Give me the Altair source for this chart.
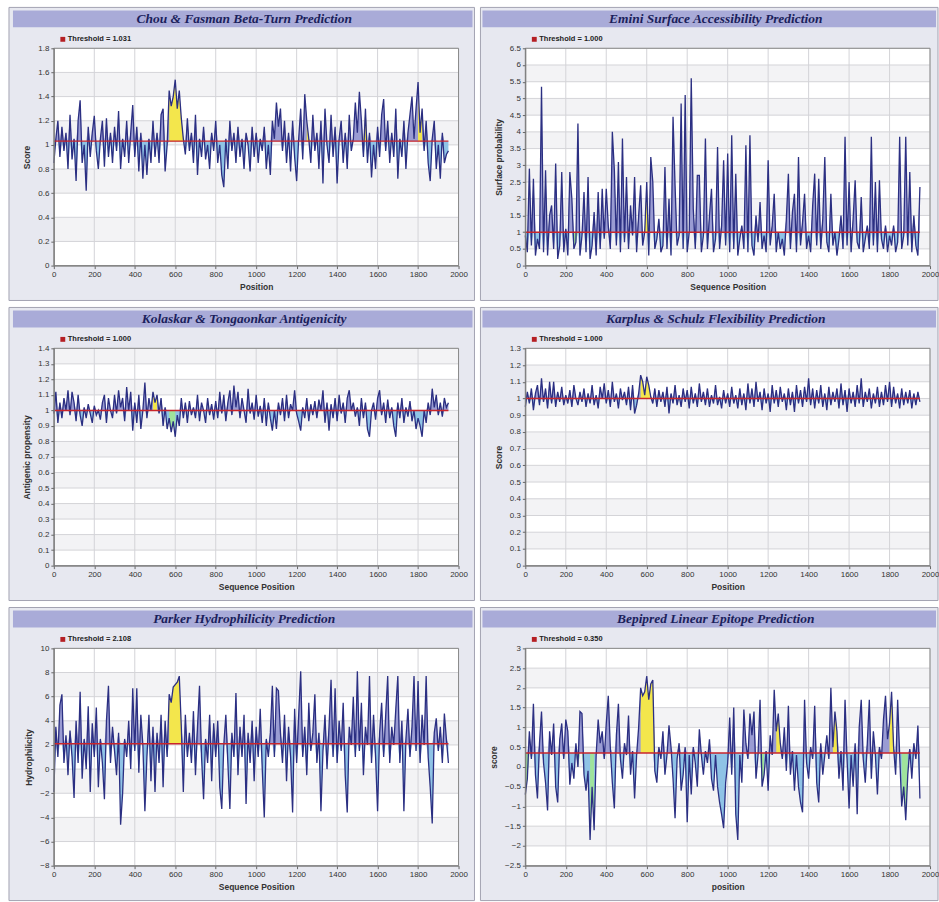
import altair as alt
import pandas as pd

positions = list(range(0, 1960, 10))

chou_fasman = [
    0.85,1.05,1.2,0.9,1.15,0.95,1.1,0.8,1.25,0.88,
    1.05,0.7,1.2,1.37,0.85,1.0,0.62,1.15,0.9,1.1,
    1.24,0.95,0.8,1.05,1.2,0.82,1.22,0.9,1.1,0.85,
    1.15,0.95,1.28,0.8,1.05,0.9,1.2,0.85,1.1,1.33,
    0.9,1.15,0.78,1.1,0.72,1.0,0.75,1.05,0.85,1.2,
    0.9,1.1,0.85,1.25,1.3,0.78,1.0,1.45,1.32,1.4,
    1.54,1.3,1.45,1.22,1.05,0.92,1.22,0.95,1.1,0.85,
    1.25,0.75,1.05,0.9,1.15,0.88,1.0,0.8,1.1,0.95,
    1.2,0.85,1.0,0.75,0.65,1.05,0.8,1.2,0.95,1.1,
    0.85,1.15,0.9,1.05,0.8,1.1,1.0,0.78,1.15,0.9,
    1.1,0.85,1.05,0.95,1.15,0.8,1.0,0.75,1.2,1.05,
    1.35,1.15,1.3,0.95,1.2,0.85,1.1,0.78,1.2,0.9,
    0.7,1.05,1.3,0.88,1.42,1.2,1.05,0.85,1.25,0.95,
    1.1,0.8,1.2,0.68,1.3,1.0,0.85,1.25,0.9,1.15,
    0.68,1.05,1.2,0.85,1.1,0.8,1.25,0.95,1.05,1.35,
    1.1,1.44,1.2,0.9,1.3,0.85,1.1,0.73,1.0,0.8,
    1.15,0.9,1.25,1.38,0.95,1.2,0.85,1.1,0.9,1.3,
    0.72,1.05,0.9,1.2,0.8,1.1,1.25,1.4,1.05,1.3,
    1.52,1.1,1.3,0.95,1.2,0.85,0.7,1.05,1.2,0.8,
    1.0,0.72,1.1,0.85,0.92,0.95,
]

emini = [
    0.9,0.4,2.9,0.6,2.6,0.3,0.8,0.5,5.35,0.4,
    2.85,0.3,1.5,1.8,0.5,3.05,0.2,0.6,2.8,0.4,
    1.1,0.3,2.8,2.0,0.5,0.7,4.25,0.3,0.9,2.2,
    0.4,2.65,0.2,0.6,1.6,0.3,2.2,0.5,2.3,0.8,
    2.3,1.2,0.5,4.0,2.85,0.6,3.1,0.4,3.8,0.7,
    2.65,0.5,1.8,0.9,2.65,0.4,1.5,2.4,0.6,1.0,
    2.5,0.3,3.25,2.5,0.5,0.8,1.4,0.4,0.6,2.95,
    0.5,2.0,0.3,4.45,2.4,0.6,0.9,4.85,0.5,5.1,
    0.4,1.0,5.6,1.7,0.5,2.7,2.7,0.4,0.9,3.8,
    0.5,1.5,2.3,0.4,0.8,3.55,0.5,1.2,3.15,0.6,
    3.35,0.4,3.9,0.5,2.75,0.3,0.8,1.2,0.5,3.6,
    0.4,3.9,0.6,0.3,1.5,0.7,1.9,0.5,0.9,0.4,
    3.15,0.6,1.2,2.15,0.4,1.0,0.5,0.8,0.3,1.4,
    2.75,0.5,1.6,2.15,0.4,3.25,0.6,1.3,2.15,0.5,
    0.9,0.4,1.8,2.75,0.6,2.6,0.5,1.4,3.25,0.7,
    0.4,2.15,0.6,1.0,0.3,0.8,1.5,0.5,3.85,0.6,
    2.5,0.4,1.4,2.55,0.7,0.5,2.05,0.4,0.8,1.2,
    0.5,3.85,0.6,2.5,0.4,2.55,0.8,0.5,1.2,0.4,
    0.9,0.6,1.2,0.4,0.7,3.85,0.5,0.9,3.85,0.6,
    2.8,0.4,1.5,0.6,0.3,2.35,
]

kolaskar = [
    0.98,1.12,0.92,1.05,0.95,1.08,1.0,1.13,0.97,1.12,
    1.05,0.93,1.1,0.97,0.9,1.02,0.95,1.04,0.98,0.92,
    1.03,0.97,1.0,0.94,1.05,1.1,0.92,1.08,1.0,0.95,
    1.1,0.98,1.13,1.02,1.08,0.93,1.15,1.0,1.12,0.87,
    1.05,0.92,1.1,0.88,1.0,1.18,0.95,1.08,1.0,1.12,
    1.05,1.1,0.98,1.08,0.9,1.02,0.88,0.95,0.86,0.93,
    0.83,0.97,0.9,1.08,0.95,1.05,0.92,1.06,0.97,1.02,
    0.95,1.1,0.93,1.05,1.0,0.92,1.08,0.97,1.04,0.94,
    1.06,0.95,1.12,0.98,1.1,0.93,1.05,1.13,0.97,1.16,
    1.02,1.12,0.95,1.08,1.0,0.92,1.14,0.98,1.05,0.94,
    1.1,0.96,1.03,0.92,1.08,0.9,1.05,0.95,0.87,1.0,
    0.88,1.05,0.97,1.08,0.93,1.1,0.95,1.04,1.0,1.13,
    0.98,0.93,0.87,1.02,0.95,1.08,0.93,1.04,0.97,1.06,
    0.95,1.07,1.0,1.13,0.92,1.05,0.87,1.04,0.95,1.08,
    0.93,1.1,0.98,1.05,0.92,1.08,1.13,1.0,1.05,0.96,
    1.02,0.9,1.08,0.95,1.05,0.88,0.83,1.0,1.05,0.94,
    1.08,1.13,0.97,1.05,0.92,1.07,0.95,1.02,0.9,0.83,
    1.05,0.95,1.08,0.92,1.02,0.96,1.06,0.93,1.0,0.88,
    0.95,0.9,0.83,1.0,0.92,1.05,0.97,1.14,1.02,1.1,
    0.97,1.05,0.96,1.08,1.02,1.05,
]

karplus = [
    0.95,1.04,0.97,1.06,0.93,1.03,1.08,0.96,1.12,0.98,
    1.06,0.94,1.1,0.97,1.1,0.95,1.04,0.98,1.07,0.96,
    1.02,0.97,1.05,0.95,1.08,1.0,0.96,1.04,0.98,1.06,
    0.95,1.03,0.97,1.08,0.96,1.02,0.94,1.07,1.0,1.09,
    0.97,1.05,0.95,1.1,0.98,1.03,0.94,1.06,0.99,1.04,
    0.96,1.07,0.93,1.08,0.91,0.96,1.03,1.14,1.1,1.02,
    1.13,1.08,1.01,0.97,1.06,0.95,1.05,0.98,1.04,0.95,
    1.07,0.91,1.03,0.97,1.08,0.96,1.02,0.95,1.06,0.98,
    1.05,0.94,1.07,0.97,1.03,0.95,1.09,0.98,1.04,0.96,
    1.06,0.95,1.02,0.97,1.08,0.96,1.01,0.94,1.05,0.97,
    1.03,0.95,1.07,0.97,1.02,0.94,1.06,0.96,1.03,0.93,
    1.09,0.97,1.06,0.95,1.1,0.98,1.04,0.93,1.06,0.97,
    1.03,0.92,1.08,0.97,1.05,0.95,1.07,0.98,1.03,0.93,
    1.06,0.96,1.04,0.92,1.08,0.97,1.05,0.95,1.07,0.98,
    1.12,0.96,1.06,0.94,1.05,0.97,1.08,0.95,1.03,0.93,
    1.07,0.96,1.04,0.98,1.06,0.94,1.09,0.96,1.05,0.92,
    1.06,0.97,1.04,0.95,1.08,0.97,1.12,0.95,1.04,0.98,
    1.06,0.94,1.03,0.97,1.07,0.95,1.04,0.96,1.08,0.98,
    1.1,0.95,1.07,0.97,1.03,0.94,1.06,0.96,1.04,0.97,
    1.05,0.94,1.03,0.96,1.04,0.98,
]

parker = [
    -1.9,3.5,1.0,5.3,6.2,0.5,2.8,-0.5,3.2,1.0,
    -2.4,4.0,0.5,6.4,-0.8,2.5,0.0,5.2,-1.9,3.8,
    1.0,5.1,-1.5,2.5,0.5,-2.5,4.0,6.9,0.5,3.5,
    1.5,-0.5,3.0,-4.6,-2.0,2.5,1.0,4.0,0.0,6.7,
    1.5,6.7,-0.3,4.5,2.0,-3.5,1.0,4.5,-1.0,3.5,
    -1.9,3.0,0.5,4.5,-1.5,4.0,1.0,6.2,5.5,6.8,
    7.0,7.2,7.7,3.5,-1.9,4.5,1.0,3.0,0.5,4.8,
    -0.5,3.5,6.9,1.0,-2.5,2.5,0.5,4.5,-1.0,3.8,
    1.0,4.0,-1.5,-3.3,2.0,4.5,0.5,-3.3,3.0,1.0,
    6.3,-0.5,3.5,1.0,4.5,-2.9,3.0,0.5,4.0,-1.0,
    3.5,1.0,5.0,0.0,-4.0,2.5,1.0,3.0,6.9,1.0,
    6.7,6.5,3.0,0.5,4.5,-1.0,3.5,1.0,-3.6,5.0,
    0.5,4.5,8.1,1.0,3.5,-0.5,5.5,1.5,3.0,6.2,
    0.5,3.0,-3.5,1.5,4.5,0.0,3.5,7.4,1.0,6.7,
    0.5,4.0,1.5,5.5,-0.5,-3.6,3.5,2.0,6.0,1.0,
    8.1,1.5,5.5,-0.5,3.5,2.0,7.7,0.5,4.5,1.0,
    -3.5,3.0,5.5,1.0,4.5,7.7,0.5,3.5,2.0,5.0,
    7.7,0.5,4.0,-3.5,2.5,5.0,1.0,3.5,7.7,1.5,
    7.3,0.5,4.5,2.0,7.7,1.0,-1.5,-4.5,3.0,4.2,
    1.5,3.5,0.5,4.6,2.5,0.5,
]

bepipred = [
    -0.7,-0.3,0.9,0.2,1.6,-0.2,-0.8,0.6,1.4,0.1,
    -0.4,-1.1,0.9,0.3,1.1,-0.5,-0.9,0.7,1.1,0.2,
    1.2,0.9,-0.45,0.1,-0.3,0.6,0.0,1.4,1.35,-0.2,
    -0.6,-0.1,-1.85,-0.5,-1.6,0.3,1.2,0.6,0.9,0.2,
    1.1,1.8,0.5,-0.4,-1.05,0.8,1.6,0.2,-0.3,0.6,
    0.3,1.3,-0.2,0.4,-0.8,0.3,1.0,2.0,1.8,1.9,
    2.3,1.7,2.1,2.2,-0.1,-0.4,0.5,0.2,0.9,-0.2,
    0.3,1.05,0.5,-0.3,-1.3,0.2,0.6,-0.6,-0.2,0.5,
    -1.4,0.3,-0.7,0.5,0.1,-0.5,0.95,0.3,-0.2,0.4,
    0.1,0.7,-0.3,-0.6,0.3,-0.5,-0.9,-1.2,-1.55,-0.4,
    0.1,1.25,-0.2,1.5,-1.2,-1.85,0.3,-0.4,1.45,0.6,
    0.2,1.35,0.8,1.4,-0.3,0.3,1.7,-0.5,-0.2,0.4,
    -0.6,0.8,0.3,1.95,0.9,1.35,0.6,0.2,1.0,-0.1,
    1.55,-0.2,0.4,-0.6,0.3,-0.5,-0.9,-1.15,1.7,0.1,
    -0.3,0.5,0.2,1.55,-0.4,-0.9,0.6,-0.2,0.3,0.8,
    0.2,2.0,0.5,1.4,0.9,-0.3,0.4,-0.6,1.7,0.2,
    -1.05,0.3,-0.5,0.6,-1.2,1.0,1.7,0.2,-0.4,0.6,
    1.7,-0.3,0.9,0.3,-0.7,0.5,0.2,1.2,1.8,0.7,
    1.1,1.9,0.5,-0.2,1.7,0.3,-1.0,-0.5,-1.35,-0.2,
    0.45,-0.3,0.6,0.2,1.05,-0.8,
]

titles = [
    "Chou & Fasman Beta-Turn Prediction",
    "Emini Surface Accessibility Prediction",
    "Kolaskar & Tongaonkar Antigenicity",
    "Karplus & Schulz Flexibility Prediction",
    "Parker Hydrophilicity Prediction",
    "Bepipred Linear Epitope Prediction",
]
thresholds = [1.031, 1.000, 1.000, 1.000, 2.108, 0.350]
threshold_labels = ["1.031", "1.000", "1.000", "1.000", "2.108", "0.350"]
x_titles = ["Position", "Sequence Position", "Sequence Position", "Position",
            "Sequence Position", "position"]
y_titles = ["Score", "Surface probability", "Antigenic propensity", "Score",
            "Hydrophilicity", "score"]
y_domains = [[0, 1.8], [0, 6.5], [0, 1.4], [0, 1.3], [-8, 10], [-2.5, 3]]
y_ticks = [
    [0, 0.2, 0.4, 0.6, 0.8, 1, 1.2, 1.4, 1.6, 1.8],
    [0, 0.5, 1, 1.5, 2, 2.5, 3, 3.5, 4, 4.5, 5, 5.5, 6, 6.5],
    [0, 0.1, 0.2, 0.3, 0.4, 0.5, 0.6, 0.7, 0.8, 0.9, 1, 1.1, 1.2, 1.3, 1.4],
    [0, 0.1, 0.2, 0.3, 0.4, 0.5, 0.6, 0.7, 0.8, 0.9, 1, 1.1, 1.2, 1.3],
    [-8, -6, -4, -2, 0, 2, 4, 6, 8, 10],
    [-2.5, -2, -1.5, -1, -0.5, 0, 0.5, 1, 1.5, 2, 2.5, 3],
]
x_ticks = list(range(0, 2001, 200))
yellow_regions = [
    [(570, 640), (1250, 1270), (1530, 1550), (1800, 1820)],
    [(590, 610)],
    [(490, 510)],
    [(570, 620)],
    [(570, 630)],
    [(570, 640), (1240, 1260), (1520, 1540), (1800, 1820)],
]
green_regions = [
    [],
    [(240, 260)],
    [(570, 600)],
    [],
    [],
    [(0, 20), (250, 290), (320, 340), (1160, 1180), (1860, 1890)],
]
series = [chou_fasman, emini, kolaskar, karplus, parker, bepipred]
for s in series:
    assert len(s) == len(positions), len(s)

W, H = 406, 218
LABEL_FONT = "Liberation Sans"


def region_id(p, regs):
    for i, (a, b) in enumerate(regs):
        if a <= p <= b:
            return i
    return None


def panel(i, right):
    thr = thresholds[i]
    vals = series[i]
    df = pd.DataFrame({"pos": positions, "val": vals})
    df["thr"] = thr
    df["hi"] = df["val"].clip(lower=thr)
    df["lo"] = df["val"].clip(upper=thr)
    df["yr"] = [region_id(p, yellow_regions[i]) for p in positions]
    df["gr"] = [region_id(p, green_regions[i]) for p in positions]

    xs = alt.Scale(domain=[0, 2000], nice=False, zero=False)
    ys = alt.Scale(domain=y_domains[i], nice=False, zero=False)
    common = dict(grid=False, zindex=1, labelFont=LABEL_FONT, labelFontSize=8,
                  labelColor="#333333", titleFont=LABEL_FONT, titleFontSize=8.5,
                  titleFontWeight="bold", titleColor="#333333", tickSize=3,
                  tickColor="#666666", domainColor="#777777", labelPadding=2)
    xaxis = alt.Axis(values=x_ticks, title=x_titles[i], format="d",
                     titlePadding=4, labelFlush=False, **common)
    yaxis = alt.Axis(values=y_ticks[i], title=y_titles[i], format="~r",
                     titlePadding=6, labelFlush=False, **common)
    X = alt.X("pos:Q", scale=xs, axis=xaxis)

    one = alt.Data(values=[{}])
    fx2 = W + 8 if right else W + 16
    bx1 = -43 if right else -41
    bx2 = W + 6 if right else W + 14

    frame = alt.Chart(one).mark_rect(fill="#e7e8f0", stroke="#a3a3b2", strokeWidth=1).encode(
        x=alt.value(-45), x2=alt.value(fx2), y=alt.value(-41), y2=alt.value(H + 35))
    bar = alt.Chart(one).mark_rect(fill="#a9abd8").encode(
        x=alt.value(bx1), x2=alt.value(bx2), y=alt.value(-38), y2=alt.value(-21))
    ttl = alt.Chart(one).mark_text(
        text=titles[i], font="Liberation Serif", fontSize=13.5, fontStyle="italic",
        fontWeight="bold", color="#1b1f5c", align="center", baseline="middle").encode(
        x=alt.value(191), y=alt.value(-29))
    sq = alt.Chart(one).mark_square(size=24, color="#b51f24", opacity=1).encode(
        x=alt.value(9), y=alt.value(-9))
    leg = alt.Chart(one).mark_text(
        text=f"Threshold  = {threshold_labels[i]}", font=LABEL_FONT, fontSize=7.5,
        fontWeight="bold", color="#222222", align="left", baseline="middle").encode(
        x=alt.value(14), y=alt.value(-9))
    plotbg = alt.Chart(one).mark_rect(fill="white").encode(
        x=alt.value(0), x2=alt.value(W), y=alt.value(0), y2=alt.value(H))

    t = y_ticks[i]
    bands_df = pd.DataFrame({"val": [t[k] for k in range(1, len(t) - 1, 2)],
                             "val2": [t[k + 1] for k in range(1, len(t) - 1, 2)]})
    bands = alt.Chart(bands_df).mark_rect(fill="#f3f3f5").encode(
        x=alt.value(0), x2=alt.value(W),
        y=alt.Y("val:Q", scale=ys, axis=yaxis), y2="val2:Q")
    xgrid = alt.Chart(pd.DataFrame({"pos": x_ticks})).mark_rule(
        color="#d4d4d8", strokeWidth=1).encode(x=X)
    ygrid = alt.Chart(pd.DataFrame({"val": t})).mark_rule(
        color="#d4d4d8", strokeWidth=1).encode(y=alt.Y("val:Q", scale=ys, axis=yaxis))

    base = alt.Chart(df)
    above = base.mark_area(color="#9a9cd3").encode(
        x=X, y=alt.Y("hi:Q", scale=ys, axis=yaxis), y2="thr:Q")
    below = base.mark_area(color="#8fc3e6").encode(
        x=X, y=alt.Y("lo:Q", scale=ys, axis=yaxis), y2="thr:Q")
    yel = base.transform_filter("datum.yr != null").mark_area(color="#f3e64c").encode(
        x=X, y=alt.Y("hi:Q", scale=ys, axis=yaxis), y2="thr:Q", detail="yr:N")
    grn = base.transform_filter("datum.gr != null").mark_area(color="#9fe39c").encode(
        x=X, y=alt.Y("lo:Q", scale=ys, axis=yaxis), y2="thr:Q", detail="gr:N")
    line = base.mark_line(color="#2b2f82", strokeWidth=1.3).encode(
        x=X, y=alt.Y("val:Q", scale=ys, axis=yaxis))
    thr_df = pd.DataFrame({"pos": [positions[0]], "pos2": [positions[-1]], "val": [thr]})
    thr_rule = alt.Chart(thr_df).mark_rule(color="#c9252b", strokeWidth=1.5).encode(
        x=X, x2="pos2:Q", y=alt.Y("val:Q", scale=ys, axis=yaxis))
    border = alt.Chart(one).mark_rect(fillOpacity=0, stroke="#8a8a8a", strokeWidth=1).encode(
        x=alt.value(0), x2=alt.value(W), y=alt.value(0), y2=alt.value(H))

    return alt.layer(frame, bar, ttl, sq, leg, plotbg, bands, xgrid, ygrid,
                     above, below, yel, grn, line, thr_rule, border).properties(
        width=W, height=H)


panels = [panel(k, k % 2 == 1) for k in range(6)]

chart = alt.concat(*panels, columns=2, spacing=alt.RowColnumber(row=83, column=67)
                   if hasattr(alt, "RowColnumber") else {"row": 83, "column": 67},
                   bounds="flush").properties(
    autosize=alt.AutoSizeParams(type="pad"),
    padding={"left": 8, "top": 5, "right": 0, "bottom": 0},
    background="white",
).configure_view(strokeWidth=0)

chart.save("out.html", embed_options={"renderer": "svg", "actions": False})
